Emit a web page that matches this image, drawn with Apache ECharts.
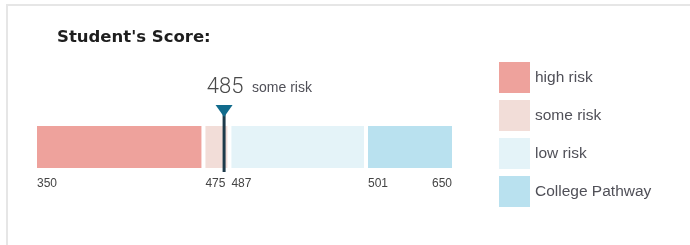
<!DOCTYPE html>
<html>
<head>
<meta charset="utf-8">
<script src="https://cdn.jsdelivr.net/npm/echarts@6/dist/echarts.min.js"></script>
<style>
  html, body { margin: 0; padding: 0; background: #fff; }
  #frame { position: absolute; left: 6px; top: 4px; width: 684px; height: 241px;
           border-top: 2px solid #e6e6e6; border-left: 2px solid #e6e6e6; box-sizing: border-box; }
  #chart { position: absolute; left: 0; top: 0; width: 690px; height: 245px; }
</style>
</head>
<body>
<div id="frame"></div>
<div id="chart"></div>
<script>
// ---- data ----
var titleText = "Student's Score:";
var categories = ['high risk', 'some risk', 'low risk', 'College Pathway'];
var boundaries = [350, 475, 487, 501, 650];          // score boundaries / tick labels
var segmentWeights = [40.2, 6.2, 32.6, 21.0];         // displayed share of each band (non-linear scale)
var colors = ['#eea29c', '#f2ddd8', '#e4f3f8', '#b9e1ef'];
var studentScore = 485;
var studentBand = 'some risk';

// ---- helpers ----
var cum = [0];
segmentWeights.forEach(function (w, i) { cum.push(cum[i] + w); });
function scoreToPos(s) {
  for (var i = 0; i < boundaries.length - 1; i++) {
    if (s >= boundaries[i] && s <= boundaries[i + 1]) {
      return cum[i] + segmentWeights[i] * (s - boundaries[i]) / (boundaries[i + 1] - boundaries[i]);
    }
  }
  return 0;
}

var chart = echarts.init(document.getElementById('chart'), null, { renderer: 'canvas' });

var barSeries = categories.map(function (name, i) {
  return {
    name: name, type: 'bar', stack: 'total', barWidth: '100%',
    data: [segmentWeights[i]],
    itemStyle: { color: colors[i], borderColor: '#ffffff', borderWidth: 2 },
    emphasis: { disabled: true }, silent: true
  };
});

var tickData = boundaries.map(function (b, i) {
  return [cum[i], 0, String(b), i === boundaries.length - 1 ? 1 : 0];
});

var option = {
  animation: false,
  title: {
    text: titleText, left: 57, top: 29, padding: 0,
    textStyle: { fontFamily: 'DejaVu Sans', fontWeight: 'bold', fontSize: 16.5, color: '#1e1e1e' }
  },
  legend: {
    orient: 'vertical', left: 499, top: 62, padding: 0,
    itemWidth: 31, itemHeight: 31, itemGap: 7, icon: 'rect',
    data: categories, selectedMode: false,
    itemStyle: { borderWidth: 0 },
    textStyle: { fontFamily: 'Liberation Sans', fontSize: 15.5, color: '#505058' }
  },
  grid: { left: 35, right: 236, top: 124, height: 46, containLabel: false },
  xAxis: { type: 'value', min: 0, max: 100, show: false },
  yAxis: { type: 'category', data: ['score'], show: false },
  series: barSeries.concat([
    {
      type: 'custom', name: 'ticks', silent: true, z: 5,
      data: tickData,
      renderItem: function (params, api) {
        var p = api.coord([api.value(0), 0]);
        var right = api.value(3) === 1;
        return {
          type: 'text',
          style: {
            text: tickData[params.dataIndex][2],
            x: right ? p[0] - 2 : p[0] + 2, y: p[1] + 37,
            textAlign: right ? 'right' : 'left', textVerticalAlign: 'middle',
            font: '12px "Liberation Sans"', fill: '#444'
          }
        };
      }
    },
    {
      type: 'custom', name: 'marker', silent: true, z: 10,
      data: [[scoreToPos(studentScore), 0]],
      renderItem: function (params, api) {
        var p = api.coord([api.value(0), 0]);
        var x = p[0] - 1, cy = p[1];
        return {
          type: 'group',
          children: [
            { type: 'line', shape: { x1: x, y1: cy - 34, x2: x, y2: cy + 25 },
              style: { stroke: '#1d3a4a', lineWidth: 3 } },
            { type: 'polygon', shape: { points: [[x - 8.5, cy - 42], [x + 8.5, cy - 42], [x, cy - 30]] },
              style: { fill: '#116b8c' } },
            { type: 'text', style: { text: String(studentScore), x: x + 1, y: cy - 49,
              textAlign: 'center', textVerticalAlign: 'bottom',
              font: '300 22px Roboto', fill: '#4a4a4a' } },
            { type: 'text', style: { text: studentBand, x: x + 28, y: cy - 59,
              textAlign: 'left', textVerticalAlign: 'middle',
              font: '14px "Liberation Sans"', fill: '#505058' } }
          ]
        };
      }
    }
  ])
};
chart.setOption(option);
</script>
</body>
</html>
